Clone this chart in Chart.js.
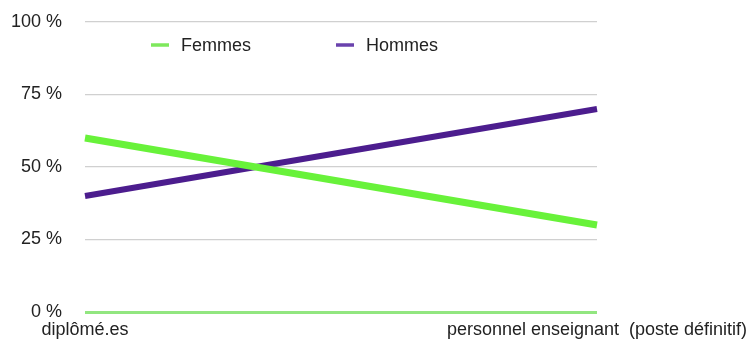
<!DOCTYPE html>
<html>
<head>
<meta charset="utf-8">
<script src="https://cdn.jsdelivr.net/npm/chart.js@4/dist/chart.umd.min.js"></script>
<style>
  html, body { margin: 0; padding: 0; background: #fff; }
  #wrap { width: 752px; height: 340px; }
</style>
</head>
<body>
<div id="wrap"><canvas id="c" width="752" height="340"></canvas></div>
<script>
// Categories on the x axis
const categories = ['diplômé.es', 'personnel enseignant  (poste définitif)'];
// Share of women and men (%)
const femmes = [60, 30];
const hommes = [40, 70];
// Y tick values
const yTicks = [0, 25, 50, 75, 100];

const FONT = { family: '"Liberation Sans", Arial, Helvetica, sans-serif', size: 18 };

// Legend drawn inside the plot area, between the top two grid lines
const inlineLegend = {
  id: 'inlineLegend',
  afterDraw(chart) {
    const ctx = chart.ctx;
    const area = chart.chartArea;
    const y = area.top + 23;
    const items = [
      { x: area.left + 66, ds: chart.data.datasets[0] },
      { x: area.left + 251, ds: chart.data.datasets[1] }
    ];
    ctx.save();
    ctx.font = FONT.size + 'px ' + FONT.family;
    ctx.textBaseline = 'middle';
    ctx.textAlign = 'left';
    items.forEach(it => {
      ctx.strokeStyle = it.ds.legendColor;
      ctx.lineWidth = 3.5;
      ctx.beginPath();
      ctx.moveTo(it.x, y);
      ctx.lineTo(it.x + 18, y);
      ctx.stroke();
      ctx.fillStyle = '#222';
      ctx.fillText(it.ds.label, it.x + 30, y + 1);
    });
    ctx.restore();
  }
};

new Chart(document.getElementById('c'), {
  type: 'line',
  data: {
    labels: categories,
    datasets: [
      {
        label: 'Femmes',
        data: femmes,
        borderColor: '#68f23a',
        legendColor: '#7ee85c',
        borderWidth: 7,
        pointRadius: 0,
        tension: 0,
        borderCapStyle: 'butt'
      },
      {
        label: 'Hommes',
        data: hommes,
        borderColor: '#4c1d8e',
        legendColor: '#6a42ad',
        borderWidth: 6,
        pointRadius: 0,
        tension: 0,
        borderCapStyle: 'butt'
      }
    ]
  },
  options: {
    responsive: false,
    animation: false,
    layout: { padding: { top: 22, right: 155, left: 0, bottom: 0 } },
    plugins: {
      legend: { display: false },
      tooltip: { enabled: false }
    },
    scales: {
      x: {
        offset: false,
        grid: { display: false, drawTicks: false },
        border: { display: false },
        ticks: {
          color: '#222',
          font: FONT,
          padding: 7,
          maxRotation: 0,
          autoSkip: false
        },
        afterFit(scale) {
          scale.height = 28;
          scale.paddingLeft = 0;
          scale.paddingRight = 0;
        }
      },
      y: {
        min: 0,
        max: 100,
        afterBuildTicks(scale) { scale.ticks = yTicks.map(v => ({ value: v })); },
        grid: {
          drawTicks: false,
          color: ctx => ctx.tick && ctx.tick.value === 0 ? '#92e680' : '#d0d0d0',
          lineWidth: ctx => ctx.tick && ctx.tick.value === 0 ? 3 : 1.2
        },
        border: { display: false },
        ticks: {
          color: '#222',
          font: FONT,
          padding: 23,
          callback: v => v + ' %'
        },
        afterFit(scale) {
          scale.width = 85;
          scale.paddingTop = 0;
          scale.paddingBottom = 0;
        }
      }
    }
  },
  plugins: [inlineLegend]
});
</script>
</body>
</html>
